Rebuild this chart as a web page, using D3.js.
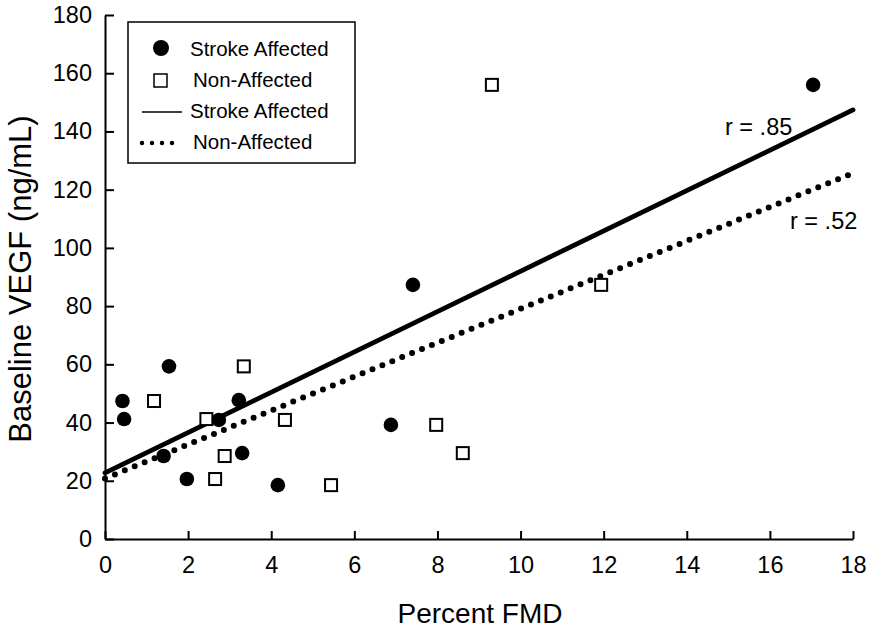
<!DOCTYPE html>
<html>
<head>
<meta charset="utf-8">
<script src="https://d3js.org/d3.v7.min.js"></script>
<style>
  body { margin: 0; background: #fff; }
  text { font-family: "Liberation Sans", Arial, sans-serif; fill: #000; }
</style>
</head>
<body>
<svg></svg>
<script>
const svgWidth = 871;
const svgHeight = 630;

// values
const strokeFMD = [0.42, 0.46, 1.54, 1.41, 1.97, 2.74, 3.22, 3.30, 4.16, 6.88, 7.41, 17.04];
const strokeVEGF = [47.4, 41.2, 59.3, 28.5, 20.6, 40.9, 47.7, 29.5, 18.5, 39.2, 87.3, 156];
const nonFMD = [1.18, 2.44, 3.34, 2.88, 2.65, 4.33, 5.44, 7.97, 8.61, 9.31, 11.94];
const nonVEGF = [47.4, 41.2, 59.3, 28.5, 20.6, 40.9, 18.5, 39.2, 29.5, 156, 87.3];
const fitX = [0, 18];
const strokeFitY = [22.7, 147.4];
const nonFitY = [20.8, 125.7];
const xTicks = [0, 2, 4, 6, 8, 10, 12, 14, 16, 18];
const yTicks = [0, 20, 40, 60, 80, 100, 120, 140, 160, 180];

const svg = d3.select('svg')
  .attr("width", svgWidth)
  .attr("height", svgHeight);

const x = d3.scaleLinear().domain([0, 18]).range([105, 853]);
const y = d3.scaleLinear().domain([0, 180]).range([539, 15]);

// axes
const xAxis = svg.append("g")
  .attr("transform", "translate(0," + y(0) + ")")
  .call(d3.axisBottom(x).tickValues(xTicks).tickSize(-8).tickSizeOuter(0).tickPadding(17));
const yAxis = svg.append("g")
  .attr("transform", "translate(" + x(0) + ",0)")
  .call(d3.axisLeft(y).tickValues(yTicks).tickSize(-9).tickSizeOuter(0).tickPadding(13));

[xAxis, yAxis].forEach(function(g) {
  g.select(".domain").attr("stroke", "#000").attr("stroke-width", 2);
  g.selectAll(".tick line").attr("stroke", "#000").attr("stroke-width", 2);
  g.selectAll(".tick text").attr("font-size", 23.5).attr("font-family", "Liberation Sans, Arial, sans-serif");
});

// axis titles
svg.append("text")
  .attr("x", 480).attr("y", 623)
  .attr("text-anchor", "middle")
  .attr("font-size", 28)
  .text("Percent FMD");
svg.append("text")
  .attr("transform", "translate(31,279) rotate(-90)")
  .attr("text-anchor", "middle")
  .attr("font-size", 31)
  .text("Baseline VEGF (ng/mL)");

// regression lines
const line = d3.line().x(function(d) { return x(d[0]); }).y(function(d) { return y(d[1]); });
svg.append("path")
  .attr("d", line(d3.zip(fitX, strokeFitY)))
  .attr("stroke", "#000").attr("stroke-width", 4.8).attr("fill", "none")
  .attr("stroke-linecap", "round");
svg.append("path")
  .attr("d", line(d3.zip(fitX, nonFitY)))
  .attr("stroke", "#000").attr("stroke-width", 6).attr("fill", "none")
  .attr("stroke-linecap", "round")
  .attr("stroke-dasharray", "0 10.7");

// points
svg.selectAll("rect.non")
  .data(d3.zip(nonFMD, nonVEGF))
  .enter()
  .append("rect")
  .attr("class", "non")
  .attr("x", function(d) { return x(d[0]) - 6; })
  .attr("y", function(d) { return y(d[1]) - 6; })
  .attr("width", 12).attr("height", 12)
  .attr("fill", "#fff").attr("stroke", "#000").attr("stroke-width", 2);

svg.selectAll("circle.stroke")
  .data(d3.zip(strokeFMD, strokeVEGF))
  .enter()
  .append("circle")
  .attr("class", "stroke")
  .attr("cx", function(d) { return x(d[0]); })
  .attr("cy", function(d) { return y(d[1]); })
  .attr("r", 7.3)
  .attr("fill", "#000");

// r labels
svg.append("text").attr("x", 725).attr("y", 135).attr("font-size", 23.5).text("r = .85");
svg.append("text").attr("x", 790).attr("y", 229).attr("font-size", 23.5).text("r = .52");

// legend
const legend = svg.append("g");
legend.append("rect")
  .attr("x", 128).attr("y", 22).attr("width", 227).attr("height", 141)
  .attr("fill", "#fff").attr("stroke", "#000").attr("stroke-width", 1.5);
legend.append("circle").attr("cx", 161).attr("cy", 48).attr("r", 8).attr("fill", "#000");
legend.append("text").attr("x", 190).attr("y", 56).attr("font-size", 20.5).text("Stroke Affected");
legend.append("rect").attr("x", 154).attr("y", 74).attr("width", 13).attr("height", 13)
  .attr("fill", "#fff").attr("stroke", "#000").attr("stroke-width", 1.5);
legend.append("text").attr("x", 193).attr("y", 87).attr("font-size", 20.5).text("Non-Affected");
legend.append("line").attr("x1", 142).attr("x2", 182).attr("y1", 112).attr("y2", 112)
  .attr("stroke", "#000").attr("stroke-width", 1.5);
legend.append("text").attr("x", 190).attr("y", 118).attr("font-size", 20.5).text("Stroke Affected");
legend.append("line").attr("x1", 142).attr("x2", 182).attr("y1", 143).attr("y2", 143)
  .attr("stroke", "#000").attr("stroke-width", 4.5)
  .attr("stroke-linecap", "round").attr("stroke-dasharray", "0 10");
legend.append("text").attr("x", 193).attr("y", 149).attr("font-size", 20.5).text("Non-Affected");
</script>
</body>
</html>
